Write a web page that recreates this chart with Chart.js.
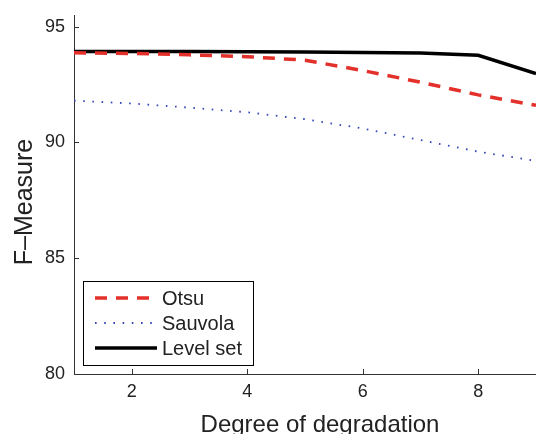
<!DOCTYPE html>
<html lang="en">
<head>
  <meta charset="UTF-8">
  <script src="https://cdn.jsdelivr.net/npm/chart.js"></script>
  <title>F-Measure</title>
  <style>
    body { margin: 0; background: #fff; }
    .grafico { width: 536px; height: 434px; }
  </style>
</head>
<body>
  <div class="grafico">
    <canvas id="myChart"></canvas>
  </div>

<script>
const degrees = [1, 2, 3, 4, 5, 6, 7, 8, 9]
const otsu = [93.87, 93.84, 93.78, 93.7, 93.55, 93.1, 92.6, 92.05, 91.6]
const sauvola = [91.8, 91.68, 91.5, 91.3, 91.0, 90.6, 90.1, 89.6, 89.2]
const levelSet = [93.92, 93.92, 93.92, 93.91, 93.9, 93.88, 93.86, 93.76, 92.97]
const yTicks = [80, 85, 90, 95]
const xTicks = [2, 4, 6, 8]
const tituloX = 'Degree of degradation'
const tituloY = 'F\u2013Measure'

const fonte = 'Liberation Sans, Arial, sans-serif'

function pontos(valores) {
  return degrees.map((d, i) => ({ x: d, y: valores[i] }))
}

// ticks para dentro, titulos e legenda dentro do grafico (estilo matlab)
const extras = {
  id: 'extras',
  afterDraw(chart) {
    const ctx = chart.ctx
    const a = chart.chartArea
    const sx = chart.scales.x
    const sy = chart.scales.y
    ctx.save()
    ctx.strokeStyle = '#333'
    ctx.lineWidth = 1
    ctx.beginPath()
    xTicks.forEach(t => {
      const px = Math.round(sx.getPixelForValue(t)) + 0.5
      ctx.moveTo(px, a.bottom)
      ctx.lineTo(px, a.bottom - 5)
    })
    yTicks.forEach(t => {
      const py = Math.round(sy.getPixelForValue(t)) + 0.5
      ctx.moveTo(a.left, py)
      ctx.lineTo(a.left + 5, py)
    })
    ctx.stroke()

    // titulos
    ctx.fillStyle = '#222'
    ctx.textAlign = 'center'
    ctx.textBaseline = 'alphabetic'
    ctx.font = '24px ' + fonte
    ctx.fillText(tituloX, 320, 432)
    ctx.save()
    ctx.translate(32, 202)
    ctx.rotate(-Math.PI / 2)
    ctx.font = '25px ' + fonte
    ctx.fillText(tituloY, 0, 0)
    ctx.restore()

    // legenda
    const bx = 83.5, by = 281.5, bw = 170, bh = 84
    ctx.fillStyle = '#fff'
    ctx.fillRect(bx, by, bw, bh)
    ctx.strokeStyle = '#000'
    ctx.lineWidth = 1
    ctx.strokeRect(bx, by, bw, bh)
    ctx.font = '20px ' + fonte
    ctx.textAlign = 'left'
    ctx.textBaseline = 'middle'
    chart.data.datasets.forEach((ds, i) => {
      const y = 298 + i * 25
      ctx.beginPath()
      ctx.setLineDash(ds.borderDash || [])
      ctx.strokeStyle = ds.borderColor
      ctx.lineWidth = ds.borderWidth
      ctx.moveTo(95, y)
      ctx.lineTo(157, y)
      ctx.stroke()
      ctx.setLineDash([])
      ctx.fillStyle = '#222'
      ctx.fillText(ds.label, 162, y + 1)
    })
    ctx.restore()
  }
}

const ctx = document.getElementById('myChart')
new Chart(ctx, {
  type: 'line',
  data: {
    datasets: [{
      label: 'Otsu',
      data: pontos(otsu),
      borderColor: '#e4302a',
      borderWidth: 3.5,
      borderDash: [12, 9],
      pointRadius: 0,
      tension: 0
    }, {
      label: 'Sauvola',
      data: pontos(sauvola),
      borderColor: '#3446b8',
      borderWidth: 1.8,
      borderDash: [1.6, 7.6],
      pointRadius: 0,
      tension: 0
    }, {
      label: 'Level set',
      data: pontos(levelSet),
      borderColor: '#000',
      borderWidth: 3.5,
      pointRadius: 0,
      tension: 0
    }]
  },
  options: {
    responsive: true,
    maintainAspectRatio: false,
    animation: false,
    layout: { padding: { top: 15, left: 0, right: 0, bottom: 0 } },
    plugins: {
      legend: { display: false },
      tooltip: { enabled: false }
    },
    scales: {
      x: {
        type: 'linear',
        min: 1,
        max: 9,
        afterBuildTicks: s => { s.ticks = xTicks.map(v => ({ value: v })) },
        afterFit: s => { s.height = 60; s.paddingLeft = 0; s.paddingRight = 0 },
        grid: { display: false, drawTicks: false },
        border: { display: true, color: '#333', width: 1 },
        ticks: { color: '#222', font: { family: fonte, size: 18 }, padding: 7, maxRotation: 0 },
        title: { display: false }
      },
      y: {
        min: 80,
        max: 95.5,
        afterBuildTicks: s => { s.ticks = yTicks.map(v => ({ value: v })) },
        afterFit: s => { s.width = 74; s.paddingTop = 0; s.paddingBottom = 0 },
        grid: { display: false, drawTicks: false },
        border: { display: true, color: '#333', width: 1 },
        ticks: { color: '#222', font: { family: fonte, size: 18 }, padding: 9 },
        title: { display: false }
      }
    }
  },
  plugins: [extras]
})
</script>
</body>
</html>
